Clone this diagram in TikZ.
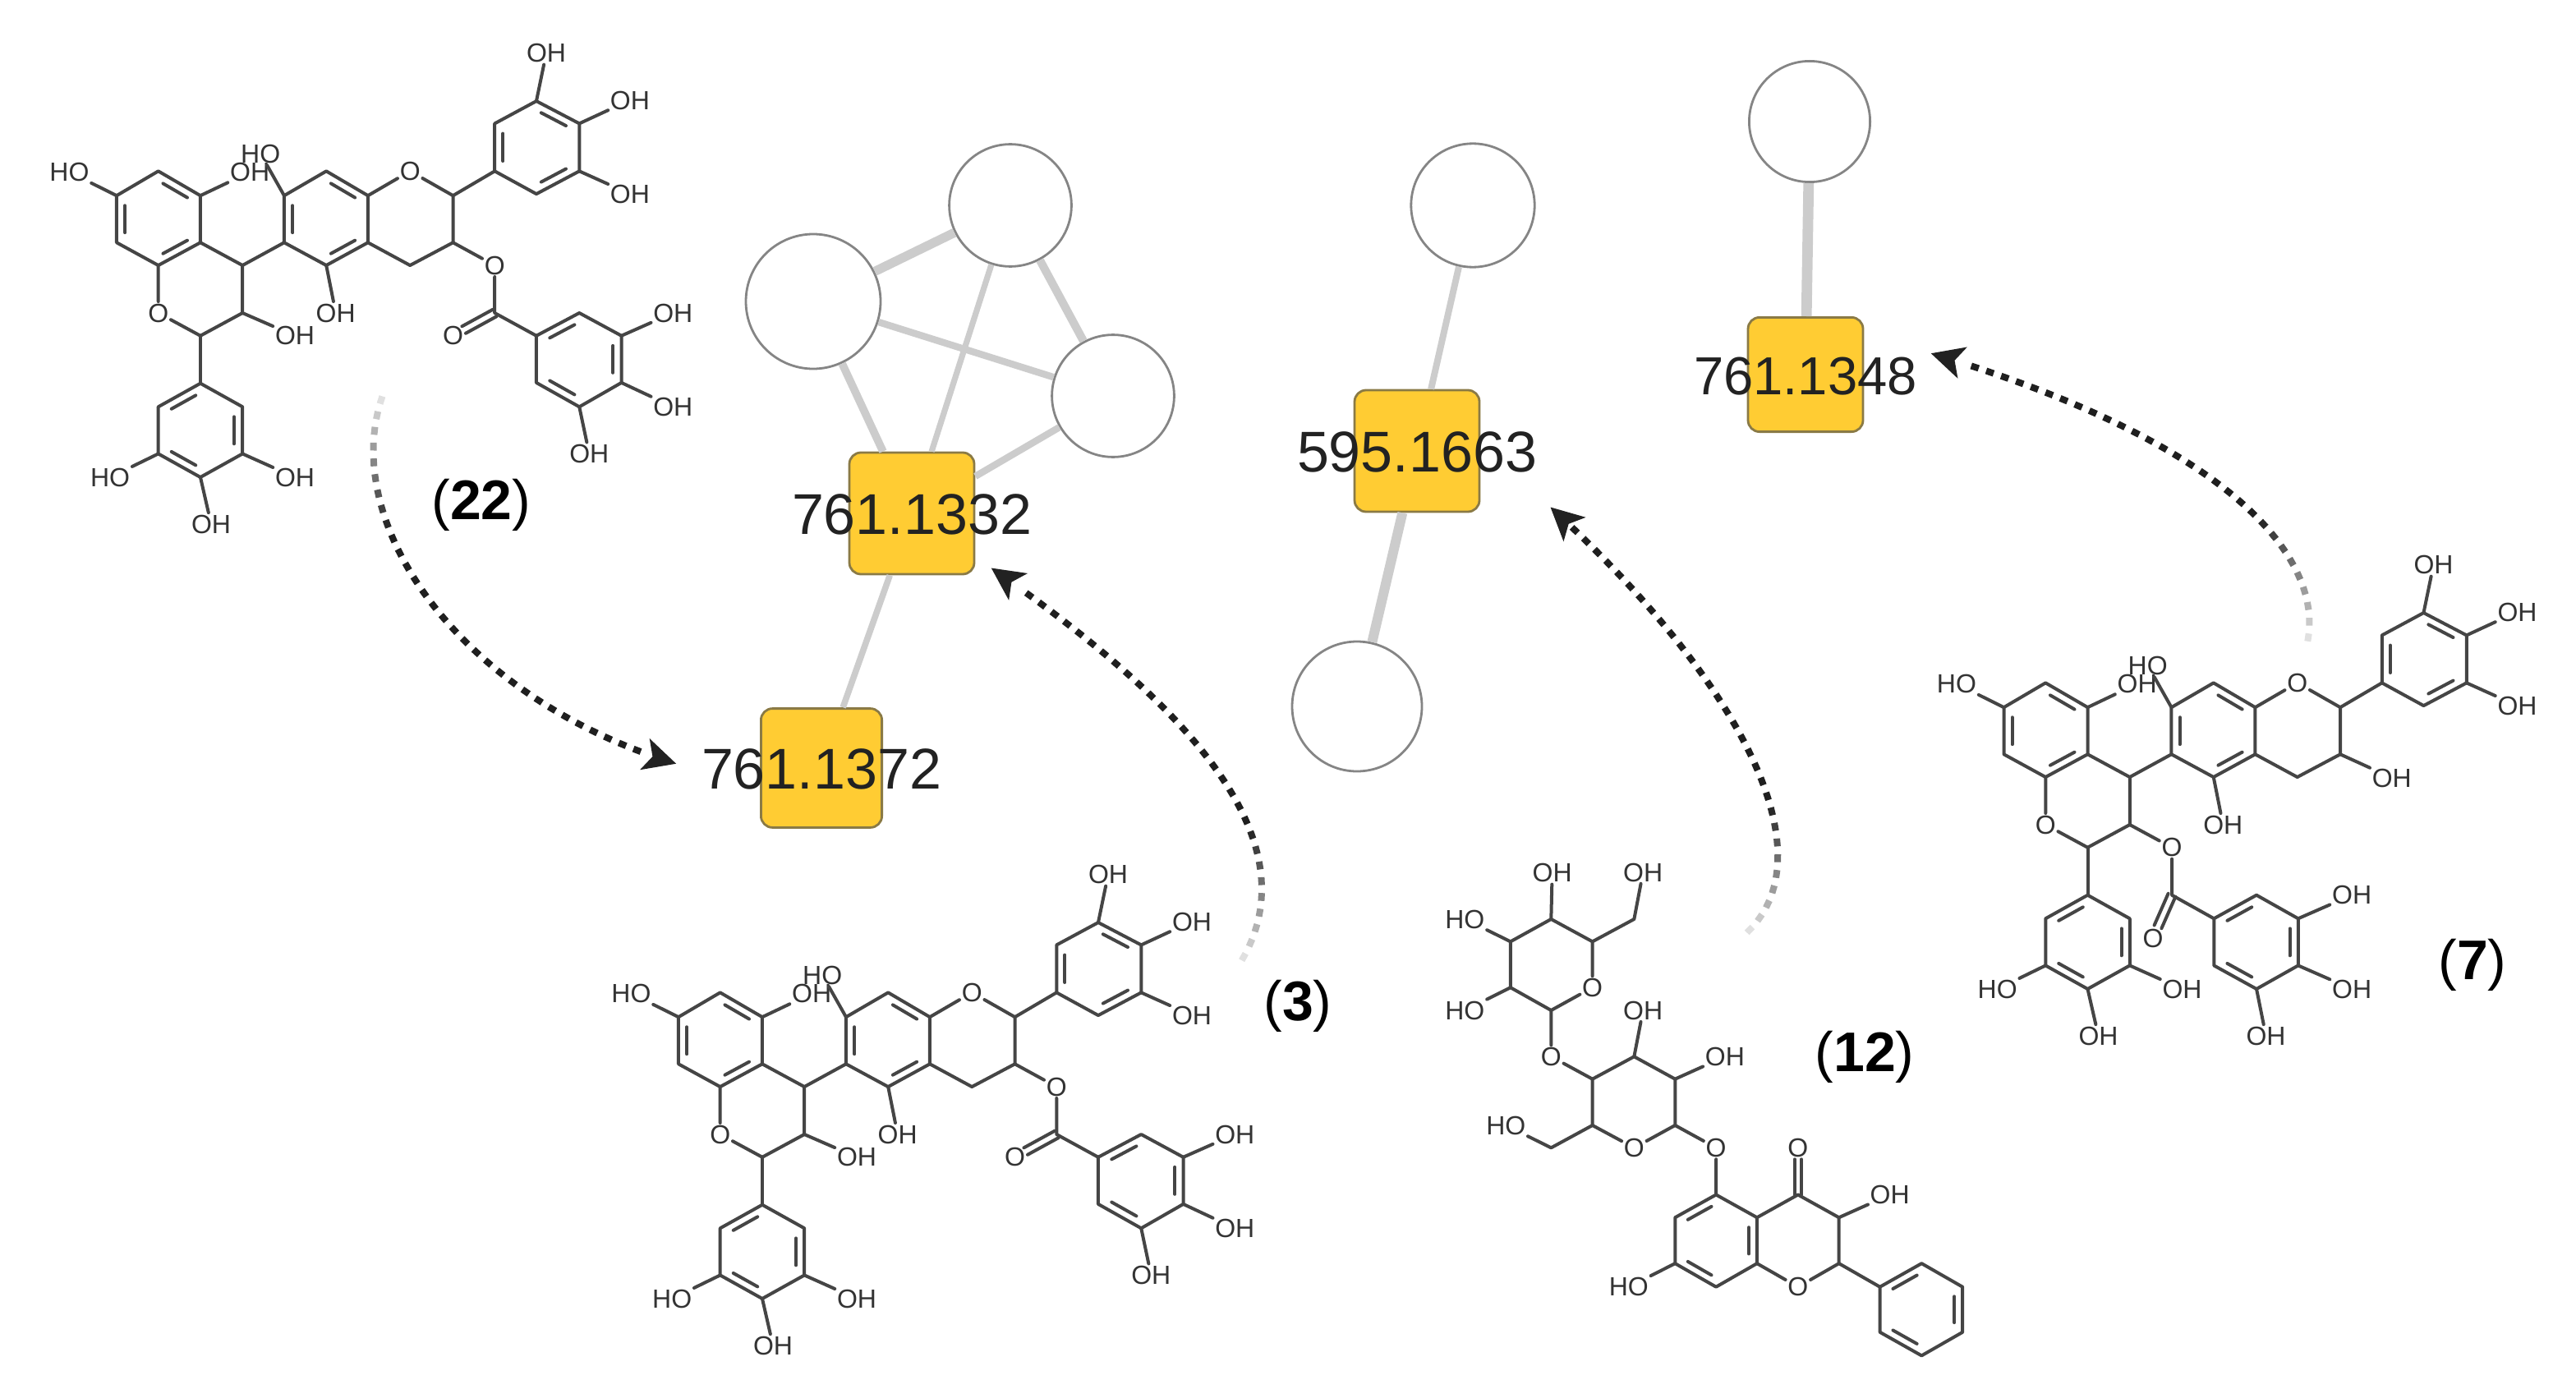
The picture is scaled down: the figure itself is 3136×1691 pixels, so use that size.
\documentclass[tikz,border=0pt]{standalone}
\usepackage{fontspec}
\setmainfont{Liberation Sans}
\usetikzlibrary{calc,arrows.meta,decorations.markings}
\definecolor{boxfill}{HTML}{FFCC33}
\definecolor{boxline}{HTML}{8A7A45}
\definecolor{bondcol}{HTML}{454545}
\definecolor{atomcol}{HTML}{333333}
\definecolor{edgecol}{HTML}{CCCCCC}
\definecolor{ringcol}{HTML}{858585}
\definecolor{textcol}{HTML}{222222}
\tikzset{
  bond/.style={draw=bondcol,line width=1pt,line join=round,line cap=round},
  atom/.style={font=\fontsize{8}{8}\selectfont,text=atomcol,inner sep=.5pt,text depth=0pt},
  cpd/.style={font=\fontsize{17}{17}\selectfont,text=black,inner sep=0pt,yshift=-.6pt},
  ion/.style={draw=ringcol,fill=white,circle,line width=.7pt,inner sep=0pt},
  massbox/.style={draw=boxline,fill=boxfill,rounded corners=3.5pt,line width=.7pt,inner sep=0pt},
  masstext/.style={font=\fontsize{17.5}{17.5}\selectfont,text=textcol,inner sep=0pt,yshift=-.4pt},
  edge/.style={draw=edgecol,line width=#1},
  fadearrow/.style={decoration={markings,
     mark=between positions 0 and -10pt step 4.8pt with {%
       \pgfmathsetmacro\kk{min(88,3+\pgfkeysvalueof{/pgf/decoration/mark info/sequence number}*9)}%
       \fill[black!\kk!white] (-1.2pt,-1pt) rectangle (1.2pt,1pt);},
     mark=at position .998 with {%
       \fill[textcol] (0pt,0pt) -- (-10pt,5pt) -- (-7.5pt,0pt) -- (-10pt,-5pt) -- cycle;}},
     decorate}
}
\newcommand{\Dbl}[3]{\draw[bond] ($ ($(#1)!.14!(#2)$)!.2!(#3) $) -- ($ ($(#2)!.14!(#1)$)!.2!(#3) $);}
% common flavan skeleton
\newcommand{\Core}{%
  \coordinate (a1) at (195,510); \coordinate (a2) at (292,437); \coordinate (a3) at (390,510);
  \coordinate (a4) at (390,650); \coordinate (a5) at (292,718); \coordinate (a6) at (195,650);
  \coordinate (ca) at (292,580);
  \coordinate (c4) at (488,718); \coordinate (c3) at (488,860); \coordinate (c2) at (390,928);
  \node[atom] (o1) at (292,860) {O};
  \coordinate (d1) at (585,650); \coordinate (d2) at (585,510); \coordinate (d3) at (683,437);
  \coordinate (d4) at (780,510); \coordinate (d5) at (780,650); \coordinate (d6) at (683,718);
  \coordinate (cd) at (683,580);
  \node[atom] (o2) at (878,437) {O};
  \coordinate (e2) at (978,510); \coordinate (e3) at (978,650); \coordinate (e4) at (878,718);
  \coordinate (f1) at (1075,437); \coordinate (f2) at (1075,295); \coordinate (f3) at (1172,228);
  \coordinate (f4) at (1272,295); \coordinate (f5) at (1272,437); \coordinate (f6) at (1172,505);
  \coordinate (cf) at (1172,365);
  \coordinate (h1) at (390,1070); \coordinate (h2) at (488,1140); \coordinate (h3) at (488,1280);
  \coordinate (h4) at (390,1350); \coordinate (h5) at (292,1280); \coordinate (h6) at (292,1140);
  \coordinate (ch) at (390,1210);
  \node[atom] (oh1) at (85,440) {HO};
  \node[atom] (oh2) at (505,440) {OH};
  \node[atom] (oh3) at (530,385) {HO};
  \node[atom] (oh4) at (705,860) {OH};
  \node[atom] (oh6) at (1195,85) {OH};
  \node[atom] (oh7) at (1390,225) {OH};
  \node[atom] (oh8) at (1390,505) {OH};
  \node[atom] (oh9) at (610,1350) {OH};
  \node[atom] (oh10) at (415,1490) {OH};
  \node[atom] (oh11) at (180,1350) {HO};
  \draw[bond] (a1)--(a2)--(a3)--(a4)--(a5)--(a6)--cycle;
  \Dbl{a1}{a6}{ca} \Dbl{a2}{a3}{ca} \Dbl{a4}{a5}{ca}
  \draw[bond] (a4)--(c4)--(c3)--(c2)--(o1)--(a5);
  \draw[bond] (c4)--(d1);
  \draw[bond] (d1)--(d2)--(d3)--(d4)--(d5)--(d6)--cycle;
  \Dbl{d1}{d2}{cd} \Dbl{d3}{d4}{cd} \Dbl{d5}{d6}{cd}
  \draw[bond] (d4)--(o2)--(e2)--(e3)--(e4)--(d5);
  \draw[bond] (e2)--(f1);
  \draw[bond] (f1)--(f2)--(f3)--(f4)--(f5)--(f6)--cycle;
  \Dbl{f1}{f2}{cf} \Dbl{f3}{f4}{cf} \Dbl{f5}{f6}{cf}
  \draw[bond] (c2)--(h1);
  \draw[bond] (h1)--(h2)--(h3)--(h4)--(h5)--(h6)--cycle;
  \Dbl{h1}{h6}{ch} \Dbl{h2}{h3}{ch} \Dbl{h4}{h5}{ch}
  \draw[bond] (a1)--(oh1); \draw[bond] (a3)--(oh2); \draw[bond] (d2)--(oh3);
  \draw[bond] (d6)--(oh4); \draw[bond] (f3)--(oh6); \draw[bond] (f4)--(oh7);
  \draw[bond] (f5)--(oh8); \draw[bond] (h3)--(oh9); \draw[bond] (h4)--(oh10);
  \draw[bond] (h5)--(oh11);
}
% galloyl ester: #1 is the attachment atom
\newcommand{\Galloyl}[1]{\Dbl{g1}{g2}{cg} \Dbl{g3}{g4}{cg} \Dbl{g5}{g6}{cg}
  \draw[bond] (g1)--(g2)--(g3)--(g4)--(g5)--(g6)--cycle;
  \draw[bond] (#1)--(oe)--(cc)--(g1);
  \coordinate (kk) at ($(cc)!.74!(ok)$);
  \draw[bond] ($(cc)!1.2pt!90:(kk)$) -- ($(kk)!1.2pt!-90:(cc)$);
  \draw[bond] ($(cc)!1.2pt!-90:(kk)$) -- ($(kk)!1.2pt!90:(cc)$);
  \draw[bond] (g3)--(oh12); \draw[bond] (g4)--(oh13); \draw[bond] (g5)--(oh14);
}
\newcommand{\EsterOnE}{%
  \node[atom] (oh5) at (610,928) {OH}; \draw[bond] (c3)--(oh5);
  \node[atom] (oe) at (1075,718) {O}; \coordinate (cc) at (1075,860);
  \node[atom] (ok) at (978,928) {O};
  \coordinate (g1) at (1172,928); \coordinate (g2) at (1272,860); \coordinate (g3) at (1370,928);
  \coordinate (g4) at (1370,1068); \coordinate (g5) at (1272,1140); \coordinate (g6) at (1172,1068);
  \coordinate (cg) at (1272,998);
  \node[atom] (oh12) at (1490,860) {OH};
  \node[atom] (oh13) at (1490,1140) {OH};
  \node[atom] (oh14) at (1295,1280) {OH};
  \Galloyl{e3}
}
\newcommand{\EsterOnC}{%
  \node[atom] (oh5) at (1098,720) {OH}; \draw[bond] (e3)--(oh5);
  \node[atom] (oe) at (586,928) {O}; \coordinate (cc) at (586,1070);
  \node[atom] (ok) at (542,1198) {O};
  \coordinate (g1) at (684,1140); \coordinate (g2) at (783,1070); \coordinate (g3) at (880,1140);
  \coordinate (g4) at (880,1280); \coordinate (g5) at (783,1350); \coordinate (g6) at (684,1280);
  \coordinate (cg) at (783,1210);
  \node[atom] (oh12) at (1005,1070) {OH};
  \node[atom] (oh13) at (1005,1350) {OH};
  \node[atom] (oh14) at (805,1490) {OH};
  \Galloyl{c3}
}
\begin{document}
\begin{tikzpicture}[x=.25pt,y=-.25pt]
\useasboundingbox (0,0) rectangle (3136,1691);

% --- molecules ---
\begin{scope}[shift={(40,30)},x=.13075pt,y=-.10204pt,name prefix=m22-]
  \Core \EsterOnE
\end{scope}
\begin{scope}[shift={(724,1030)},x=.13075pt,y=-.10204pt,name prefix=m3-]
  \Core \EsterOnE
\end{scope}
\begin{scope}[shift={(2337.5,653)},x=.13075pt,y=-.10204pt,name prefix=m7-]
  \Core \EsterOnC
\end{scope}
\begin{scope}[shift={(1740,1030)},x=.10841pt,y=-.10204pt,name prefix=m12-]
  \coordinate (p1) at (228,285); \coordinate (p2) at (342,218); \coordinate (p3) at (458,285);
  \node[atom] (po) at (458,422) {O};
  \coordinate (p5) at (342,490); \coordinate (p6) at (228,422);
  \node[atom] (x1) at (345,80) {OH};
  \node[atom] (x2) at (100,218) {HO};
  \node[atom] (x3) at (100,490) {HO};
  \coordinate (q) at (575,218);
  \node[atom] (x4) at (600,78) {OH};
  \node[atom] (o1) at (342,628) {O};
  \coordinate (r1) at (458,695); \coordinate (r2) at (575,628); \coordinate (r3) at (690,695);
  \coordinate (r4) at (690,833); \coordinate (r5) at (458,833);
  \node[atom] (ro) at (575,900) {O};
  \node[atom] (x5) at (600,490) {OH};
  \node[atom] (x6) at (830,628) {OH};
  \coordinate (s) at (342,900);
  \node[atom] (x7) at (215,833) {HO};
  \node[atom] (o2) at (805,900) {O};
  \coordinate (t1) at (805,1040); \coordinate (t2) at (690,1108); \coordinate (t3) at (690,1245);
  \coordinate (t4) at (805,1315); \coordinate (t5) at (920,1245); \coordinate (t6) at (920,1108);
  \coordinate (ct) at (805,1178);
  \coordinate (u1) at (1035,1040); \coordinate (u2) at (1150,1108); \coordinate (u3) at (1150,1245);
  \node[atom] (uk) at (1035,900) {O};
  \node[atom] (x8) at (1293,1040) {OH};
  \node[atom] (uo) at (1035,1315) {O};
  \node[atom] (x9) at (560,1315) {HO};
  \coordinate (v1) at (1265,1315); \coordinate (v2) at (1265,1450); \coordinate (v3) at (1382,1520);
  \coordinate (v4) at (1497,1450); \coordinate (v5) at (1497,1315); \coordinate (v6) at (1382,1245);
  \coordinate (cv) at (1382,1382);
  \draw[bond] (p6)--(p1)--(p2)--(p3)--(po);
  \draw[bond] (po)--(p5)--(p6);
  \draw[bond] (p2)--(x1); \draw[bond] (p1)--(x2); \draw[bond] (p6)--(x3);
  \draw[bond] (p3)--(q)--(x4); \draw[bond] (p5)--(o1)--(r1);
  \draw[bond] (ro)--(r4)--(r3)--(r2)--(r1)--(r5)--(ro);
  \draw[bond] (r2)--(x5); \draw[bond] (r3)--(x6); \draw[bond] (r5)--(s)--(x7);
  \draw[bond] (r4)--(o2)--(t1);
  \draw[bond] (t1)--(t2)--(t3)--(t4)--(t5)--(t6)--cycle;
  \Dbl{t1}{t2}{ct} \Dbl{t3}{t4}{ct} \Dbl{t5}{t6}{ct}
  \draw[bond] (t6)--(u1)--(u2)--(u3)--(uo)--(t5);
  \draw[bond] ([xshift=-1pt]u1)--([xshift=-1pt]uk.south); \draw[bond] ([xshift=1pt]u1)--([xshift=1pt]uk.south);
  \draw[bond] (u2)--(x8); \draw[bond] (t3)--(x9);
  \draw[bond] (u3)--(v1);
  \draw[bond] (v1)--(v2)--(v3)--(v4)--(v5)--(v6)--cycle;
  \Dbl{v1}{v6}{cv} \Dbl{v2}{v3}{cv} \Dbl{v4}{v5}{cv}
\end{scope}

% --- compound labels ---
\node[cpd] (c22) at (586,612) {(\textbf{22})};
\node[cpd] (c3) at (1580,1222) {(\textbf{3})};
\node[cpd] (c12) at (2270,1284) {(\textbf{12})};
\node[cpd] (c7) at (3010,1172) {(\textbf{7})};

% --- network nodes ---
\node[ion,minimum size=37.2pt] (n1) at (1230,250) {};
\node[ion,minimum size=41pt] (n2) at (990,367) {};
\node[ion,minimum size=37.2pt] (n3) at (1355,482) {};
\node[ion,minimum size=37.6pt] (n4) at (1793,250) {};
\node[ion,minimum size=39.5pt] (n5) at (1652,860) {};
\node[ion,minimum size=36.8pt] (n6) at (2203,148) {};
\node[massbox,minimum width=38pt,minimum height=37pt] (b1) at (1110,625) {};
\node[massbox,minimum width=36.8pt,minimum height=36.2pt] (b2) at (1000,935) {};
\node[massbox,minimum width=38pt,minimum height=37pt] (b3) at (1725,549) {};
\node[massbox,minimum width=35pt,minimum height=34.8pt] (b4) at (2198,456) {};

% --- network edges ---
\draw[edge=2.8pt] (n1)--(n2);
\draw[edge=2.1pt] (n2)--(n3);
\draw[edge=2.5pt] (n1)--(n3);
\draw[edge=2.4pt] (n2)--(b1);
\draw[edge=1.8pt] (n1)--(b1);
\draw[edge=2.1pt] (n3)--(b1);
\draw[edge=1.9pt] (b1)--(b2);
\draw[edge=2pt] (n4)--(b3);
\draw[edge=3pt] (b3)--(n5);
\draw[edge=3.2pt] (n6)--(b4);

% --- mass labels ---
\node[masstext] (t1) at (b1) {761.1332};
\node[masstext] (t2) at (b2) {761.1372};
\node[masstext] (t3) at (b3) {595.1663};
\node[masstext,font=\fontsize{16.3}{16.3}\selectfont] (t4) at (b4) {761.1348};

% --- dotted arrows ---
\coordinate (s1) at (464,487); \coordinate (e1) at (824,930);
\coordinate (s2) at (1514,1165); \coordinate (e2) at (1206,691);
\coordinate (s3) at (2130,1132); \coordinate (e3) at (1887,617);
\coordinate (s4) at (2810,776); \coordinate (e4) at (2350,430);
\path[fadearrow] (s1) .. controls (415,640) and (560,850) .. (e1);
\path[fadearrow] (s2) .. controls (1600,1010) and (1420,840) .. (e2);
\path[fadearrow] (s3) .. controls (2220,1040) and (2130,840) .. (e3);
\path[fadearrow] (s4) .. controls (2825,680) and (2720,540) .. (e4);
\end{tikzpicture}
\end{document}
